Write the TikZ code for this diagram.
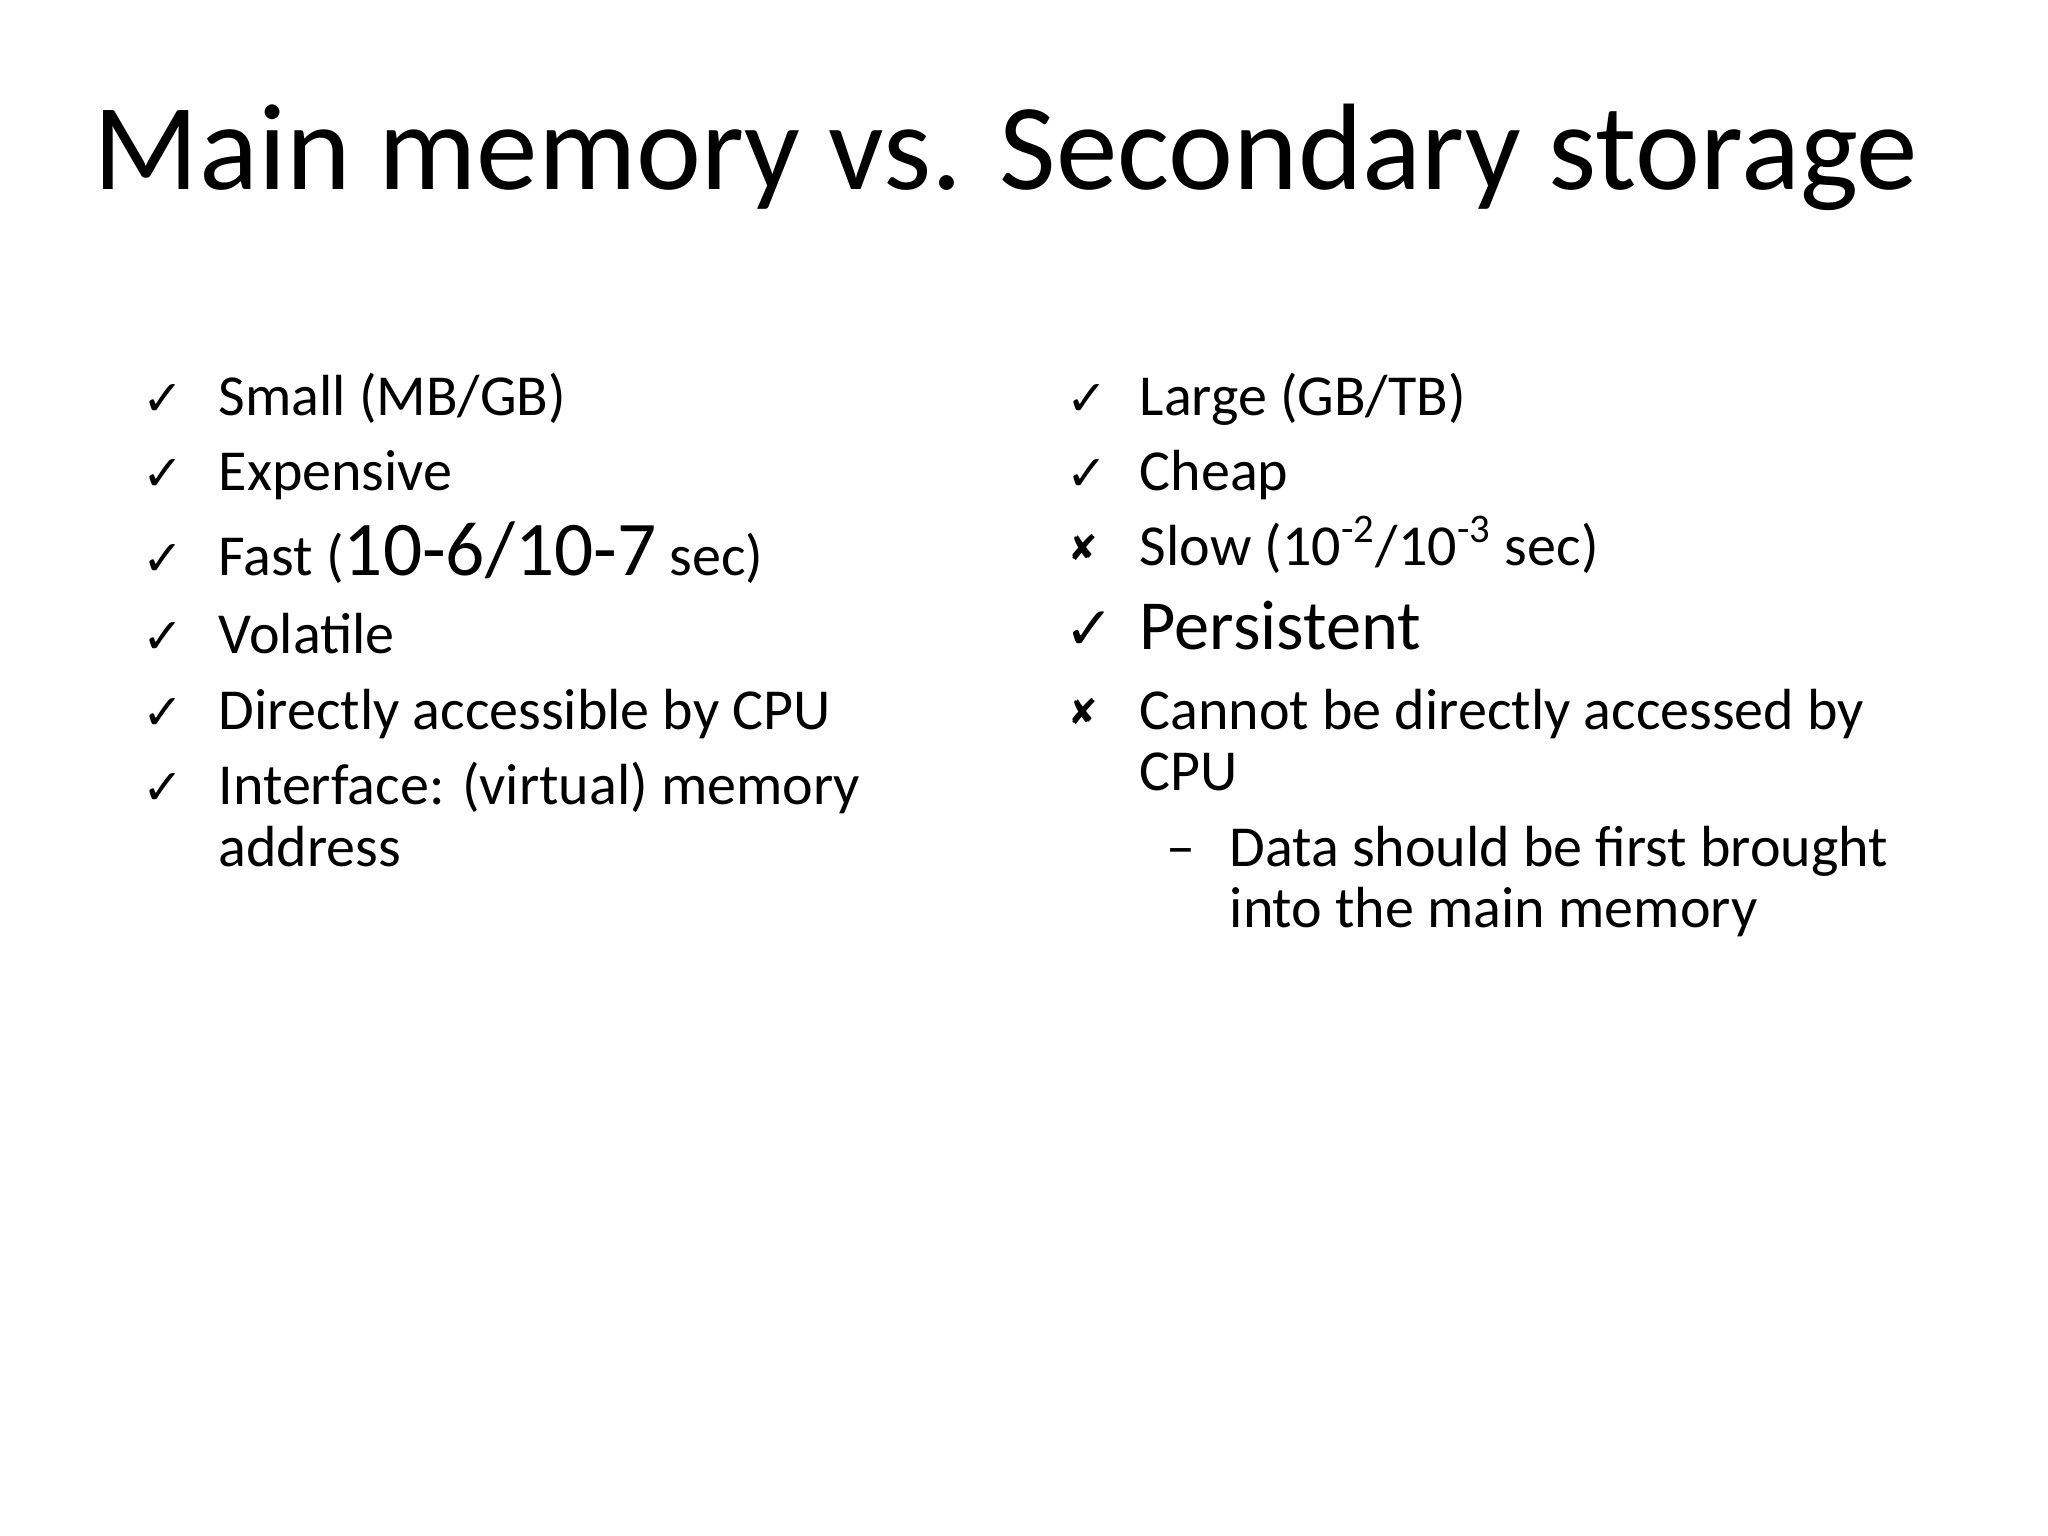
\documentclass[tikz,border=0pt]{standalone}
\usepackage{fontspec}
\setmainfont{Carlito}
\newfontfamily\sym{DejaVu Sans}
\begin{document}
\begin{tikzpicture}[x=0.01cm,y=-0.01cm,
  t/.style={anchor=base west,inner sep=0pt,font=\fontsize{16.5}{20}\selectfont},
  ck/.style={anchor=base west,inner sep=0pt,font=\sym\fontsize{14}{16}\selectfont}]
\useasboundingbox (0,0) rectangle (2048,1536);
\node[anchor=base,inner sep=0pt,font=\fontsize{35}{40}\selectfont] (title) at (1006,189) {Main memory vs. Secondary storage};
% left
\foreach \y/\n in {415/a,490/b,575/c,653/d,729/e,804/f} \node[ck] (c\n) at (142,\y) {✓};
\node[t] (l1) at (218,415) {Small (MB/GB)};
\node[t] (l2) at (218,490) {Expensive};
\node[t] (l3) at (218,575) {Fast ({\fontsize{22}{24}\selectfont 10-6/10-7} sec)};
\node[t] (l4) at (218,653) {Volatile};
\node[t] (l5) at (218,729) {Directly accessible by CPU};
\node[t] (l6) at (218,804) {Interface: (virtual) memory};
\node[t] (l7) at (218,866) {address};
% right
\node[ck] (r1c) at (1066,415) {✓};
\node[ck] (r2c) at (1066,490) {✓};
\node[ck,font=\sym\fontsize{10}{12}\selectfont] (r3c) at (1068,560) {✘};
\node[ck,font=\sym\fontsize{17}{18}\selectfont] (r4c) at (1064,649) {✓};
\node[ck,font=\sym\fontsize{10}{12}\selectfont] (r5c) at (1068,724) {✘};
\node[t] (r1) at (1139,415) {Large (GB/TB)};
\node[t] (r2) at (1139,490) {Cheap};
\node[t] (r3) at (1139,565) {Slow (10\textsuperscript{-2}/10\textsuperscript{-3} sec)};
\node[t,font=\fontsize{20}{24}\selectfont] (r4) at (1139,649) {Persistent};
\node[t] (r5) at (1139,729) {Cannot be directly accessed by};
\node[t] (r6) at (1139,790) {CPU};
\node[t] (dash) at (1166,866) {–};
\node[t] (r7) at (1229,866) {Data should be first brought};
\node[t] (r8) at (1229,927) {into the main memory};
\end{tikzpicture}
\end{document}
